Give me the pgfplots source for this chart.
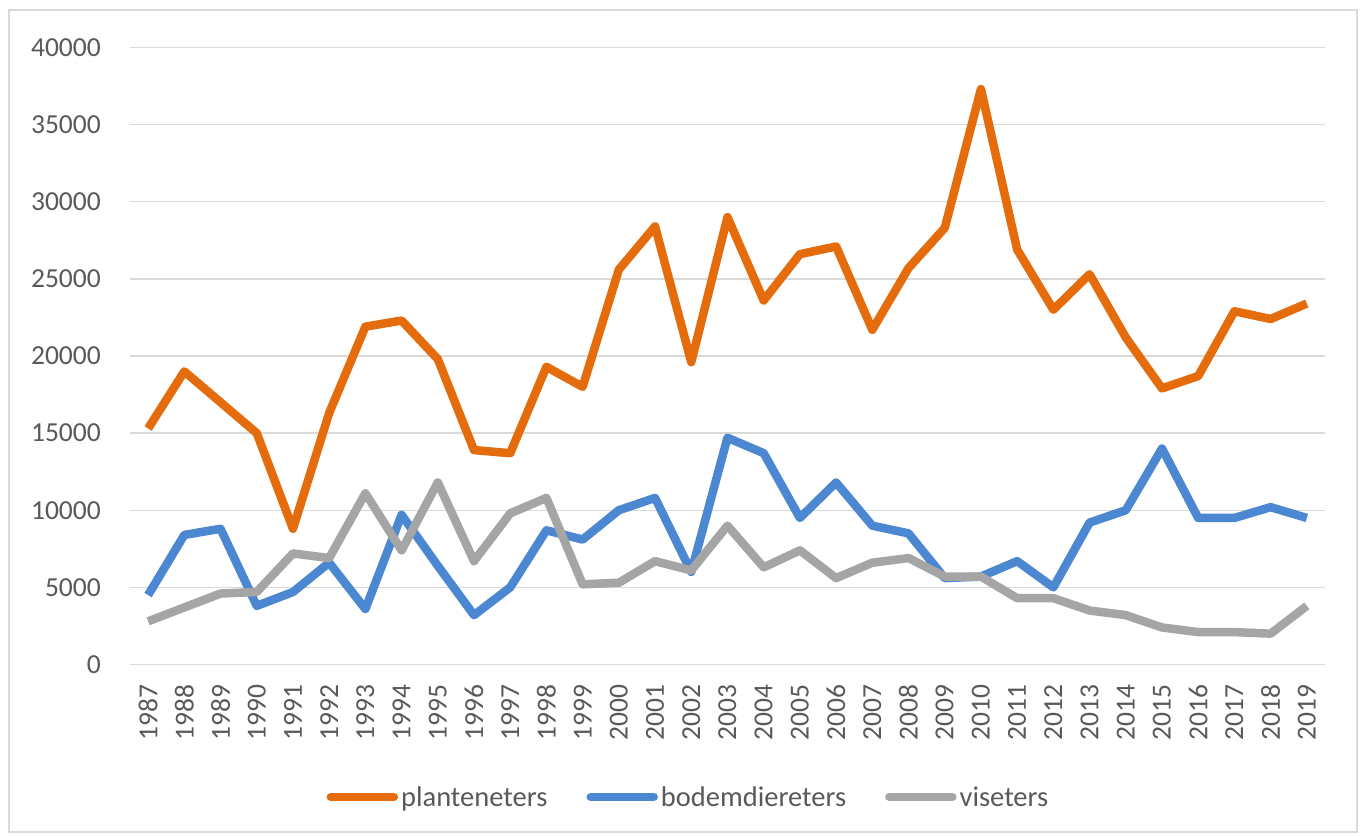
\documentclass[border=0pt]{standalone}
\usepackage{pgfplots}
\pgfplotsset{compat=1.18}
\usepackage{pgfplotstable}
\usepackage{fontspec}
\setmainfont{Carlito}
\definecolor{cOrange}{RGB}{228,108,12}
\definecolor{cBlue}{RGB}{76,135,210}
\definecolor{cGray}{RGB}{165,165,165}
\definecolor{cGrid}{RGB}{217,217,217}
\definecolor{cText}{RGB}{89,89,89}
\definecolor{cFrame}{RGB}{217,217,217}
\pgfplotstableread{
Year P B V
1987 15300 4500 2800
1988 19000 8400 3700
1989 17000 8800 4600
1990 15000 3800 4700
1991 8800 4700 7200
1992 16300 6600 6900
1993 21900 3600 11100
1994 22300 9700 7400
1995 19800 6400 11800
1996 13900 3200 6700
1997 13700 5000 9800
1998 19300 8700 10800
1999 18000 8100 5200
2000 25600 10000 5300
2001 28400 10800 6700
2002 19600 6000 6100
2003 29000 14700 9000
2004 23600 13700 6300
2005 26600 9500 7400
2006 27100 11800 5600
2007 21700 9000 6600
2008 25700 8500 6900
2009 28300 5600 5700
2010 37300 5700 5700
2011 26900 6700 4300
2012 23000 5000 4300
2013 25300 9200 3500
2014 21200 10000 3200
2015 17900 14000 2400
2016 18700 9500 2100
2017 22900 9500 2100
2018 22400 10200 2000
2019 23400 9500 3800
}\datatable
\begin{document}
\begin{tikzpicture}[x=1pt,y=1pt]
\path[use as bounding box] (0,0) rectangle (1362,835);
\draw[cFrame, line width=1.5pt] (9,3) rectangle (1357,825);
\begin{axis}[
  at={(130pt,170.5pt)}, anchor=south west,
  scale only axis, width=1195pt, height=617pt,
  xmin=1986.5, xmax=2019.5, ymin=0, ymax=40000,
  xtick={1987,...,2019}, ytick={0,5000,...,40000},
  scaled y ticks=false,
  /pgf/number format/1000 sep={},
  /pgf/number format/assume math mode=true,
  axis line style={draw=none},
  major tick length=0pt,
  ymajorgrids, grid style={cGrid, line width=1.3pt},
  tick label style={font=\fontsize{27.5}{31}\selectfont, text=cText},
  yticklabel style={anchor=east, inner sep=0pt, xshift=-29pt},
  xticklabel style={yshift=-20pt, rotate=90, anchor=east, inner sep=0pt},
  legend columns=3,
  legend style={at={(0.4665,-0.2147)}, anchor=center, draw=none, fill=none,
    font=\fontsize{28.5}{33}\selectfont, text=cText,
    /tikz/every odd column/.append style={column sep=3pt},
    /tikz/every even column/.append style={column sep=39pt},
    nodes={inner sep=0pt}},
  legend image code/.code={\path[draw=none,fill=none] (0pt,-4pt) rectangle (71pt,4pt);
     \draw[#1, line width=8.5pt, line cap=round] (4pt,0pt) -- (67pt,0pt);},
  every axis plot/.append style={line width=8.5pt, line join=round, no marks},
]
\addplot[cOrange] table[x=Year,y=P]{\datatable};
\addlegendentry{planteneters}
\addplot[cBlue] table[x=Year,y=B]{\datatable};
\addlegendentry{bodemdiereters}
\addplot[cGray] table[x=Year,y=V]{\datatable};
\addlegendentry{viseters}
\end{axis}
\end{tikzpicture}
\end{document}
